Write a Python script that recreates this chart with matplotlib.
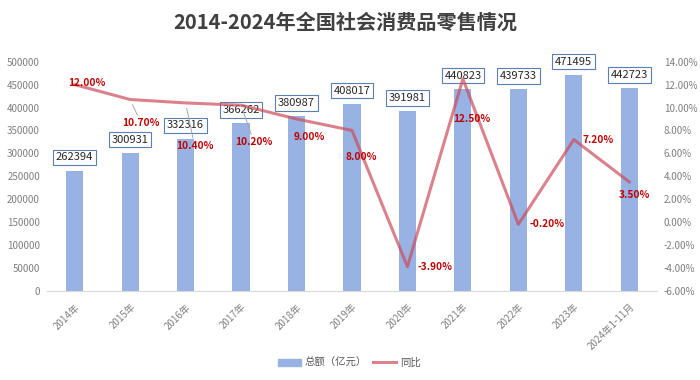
import matplotlib
matplotlib.use("Agg")
import matplotlib.pyplot as plt
from matplotlib.ticker import FuncFormatter, MultipleLocator

plt.rcParams['font.family'] = ['Noto Sans CJK SC', 'DejaVu Sans']

# 数据
years = ["2014年", "2015年", "2016年", "2017年", "2018年", "2019年",
         "2020年", "2021年", "2022年", "2023年", "2024年1-11月"]
total = [262394, 300931, 332316, 366262, 380987, 408017,
         391981, 440823, 439733, 471495, 442723]
yoy = [12.0, 10.7, 10.4, 10.2, 9.0, 8.0, -3.9, 12.5, -0.2, 7.2, 3.5]

# 百分比标签的偏移 (像素, 向右/向下)
pct_offsets = [(12, -1.5), (11, 23.5), (9, 43), (13, 37), (13, 18), (9, 27),
               (28, 0), (9, 40), (29, 0), (24, 0), (5, 13)]
leaders = [False, True, True, True, False, False, False, False, False, False, False]

bar_color = "#97b2e3"
line_color = "#cd4c5b"
gray = "#7f7f7f"

fig = plt.figure(figsize=(7, 3.8), dpi=100)
ax1 = fig.add_axes([0.067, 0.235, 0.8716, 0.6026])
ax2 = ax1.twinx()

x = list(range(len(years)))
ax1.bar(x, total, width=0.31, color=bar_color, zorder=2)
ax1.set_xlim(-0.5, len(years) - 0.5)
ax1.set_ylim(0, 500000)
ax1.yaxis.set_major_locator(MultipleLocator(50000))
ax1.set_xticks(x)
ax1.set_xticklabels(years, rotation=45, ha="right", rotation_mode="anchor")
ax1.tick_params(axis="x", length=0, pad=8, labelsize=7, labelcolor=gray)
ax1.tick_params(axis="y", length=0, pad=5, labelsize=7, labelcolor=gray)

for xi, v in zip(x, total):
    ax1.annotate(str(v), (xi, v), xytext=(0, 9.5), textcoords="offset points",
                 ha="center", va="center", fontsize=8, color="#262626",
                 bbox=dict(boxstyle="square,pad=0.25", fc="white",
                           ec="#5b7fae", lw=0.8), zorder=4)

ax2.plot(x, yoy, color=line_color, alpha=0.7, lw=2.2, zorder=3)
ax2.set_ylim(-6, 14)
ax2.yaxis.set_major_locator(MultipleLocator(2))
ax2.yaxis.set_major_formatter(FuncFormatter(lambda v, p: "%.2f%%" % v))
ax2.tick_params(axis="y", length=0, pad=5, labelsize=7, labelcolor=gray)

for xi, v, (dx, dy), ld in zip(x, yoy, pct_offsets, leaders):
    arrow = None
    if ld:
        arrow = dict(arrowstyle="-", color="#a6a6a6", lw=0.7, shrinkA=0, shrinkB=4)
    ax2.annotate("%.2f%%" % v, (xi, v), xytext=(dx * 0.72, -dy * 0.72),
                 textcoords="offset points", ha="center", va="center",
                 fontsize=7.3, fontweight="bold", color="#c00000",
                 arrowprops=arrow, zorder=5)

for ax in (ax1, ax2):
    for s in ("top", "left", "right"):
        ax.spines[s].set_visible(False)
    ax.spines["bottom"].set_color("#d9d9d9")
ax2.spines["bottom"].set_visible(False)

fig.text(0.493, 0.942, "2014-2024年全国社会消费品零售情况", ha="center", va="center",
         fontsize=14.5, fontweight="bold", color="#404040")

h1 = plt.Rectangle((0, 0), 1, 1, color=bar_color)
h2 = plt.Line2D([0], [0], color=line_color, alpha=0.7, lw=2.2)
fig.legend([h1, h2], ["总额（亿元）", "同比"], loc="center",
           bbox_to_anchor=(0.499, 0.045), ncol=2, frameon=False, fontsize=7.5,
           labelcolor="#595959", handlelength=2.2, columnspacing=0.6,
           handletextpad=0.4)

fig.savefig("out.png", dpi=100)
